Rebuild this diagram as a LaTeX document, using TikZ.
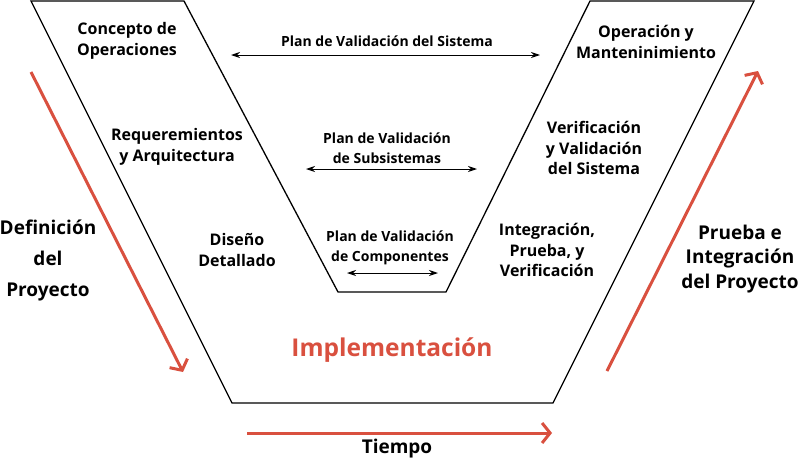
\documentclass[tikz,border=0pt]{standalone}
\usepackage{fontspec}
\setmainfont{Open Sans}
\usepackage{xcolor}
\usetikzlibrary{calc,arrows.meta,positioning}
\definecolor{vred}{HTML}{D9503F}

\begin{document}
\begin{tikzpicture}[x=1pt,y=-1pt,
    etapa/.style={align=center,font=\fontsize{16}{20.5}\selectfont\bfseries},
    plan/.style={align=center,font=\fontsize{14}{20.5}\selectfont\bfseries},
    fase/.style={align=center,font=\fontsize{19}{#1}\selectfont\bfseries},
    fase/.default={24.5},
    flecha/.style={vred,line width=3pt,-{Straight Barb[length=8pt,width=20pt]}},
    doble/.style={line width=1pt,{Stealth[length=9pt,width=6pt]}-{Stealth[length=9pt,width=6pt]}}]
        \useasboundingbox (0,0) rectangle (800,461);
        \pgfmathsetmacro{\yt}{1}
        \pgfmathsetmacro{\yi}{292}
        \pgfmathsetmacro{\yb}{403}
        % contorno de la V
        \coordinate (A1) at (31,\yt);
        \coordinate (A2) at (184,\yt);
        \coordinate (A3) at (338,\yi);
        \coordinate (A4) at (446,\yi);
        \coordinate (A5) at (590,\yt);
        \coordinate (A6) at (754,\yt);
        \coordinate (A7) at (553,\yb);
        \coordinate (A8) at (232,\yb);
        \draw[line width=1.3pt, line join=miter] (A1) -- (A2) -- (A3) -- (A4) -- (A5) -- (A6) -- (A7) -- (A8) -- cycle;
        % flechas rojas
        \coordinate (D0) at (31,72);
        \coordinate (D1) at (183,372);
        \coordinate (P0) at (607,371);
        \coordinate (P1) at (758,71);
        \coordinate (T0) at (247,433);
        \coordinate (T1) at (552,433);
        \draw[flecha] (D0) -- (D1);
        \draw[flecha] (P0) -- (P1);
        \draw[flecha] (T0) -- (T1);
        % planes de validacion
        \coordinate (S0) at (231,55);
        \coordinate (S1) at (540,55);
        \coordinate (B0) at (306,169);
        \coordinate (B1) at (477,169);
        \coordinate (C0) at (347,273);
        \coordinate (C1) at (438,273);
        \draw[doble] (S0) -- (S1);
        \draw[doble] (B0) -- (B1);
        \draw[doble] (C0) -- (C1);
        \node[plan] (ps) at (387,41) {Plan de Validación del Sistema};
        \node[plan] (pb) at (387,148) {Plan de Validación\\de Subsistemas};
        \node[plan] (pc) at (390,248) {Plan de Validación\\de Componentes};
        % etapas
        \node[etapa] (con) at (127,41) {Concepto de\\Operaciones};
        \node[etapa] (req) at (177,147) {Requeremientos\\y Arquitectura};
        \node[etapa] (dis) at (237,250) {Diseño\\Detallado};
        \node[etapa] (ope) at (646,42) {Operación y\\Manteninimiento};
        \node[etapa] (ver) at (594,148) {Verificación\\y Validación\\del Sistema};
        \node[etapa] (int) at (547,250) {Integración,\\Prueba, y\\Verificación};
        % fases
        \node[fase=31] (def) at (48,260) {Definición\\del\\Proyecto};
        \node[fase] (pru) at (740,259) {Prueba e\\Integración\\del Proyecto};
        \node[font=\fontsize{24.5}{28}\selectfont\bfseries, text=vred] (imp) at (392,350) {Implementación};
        \node[font=\fontsize{19}{22}\selectfont\bfseries] (tie) at (397,449) {Tiempo};
    \end{tikzpicture}
\end{document}
